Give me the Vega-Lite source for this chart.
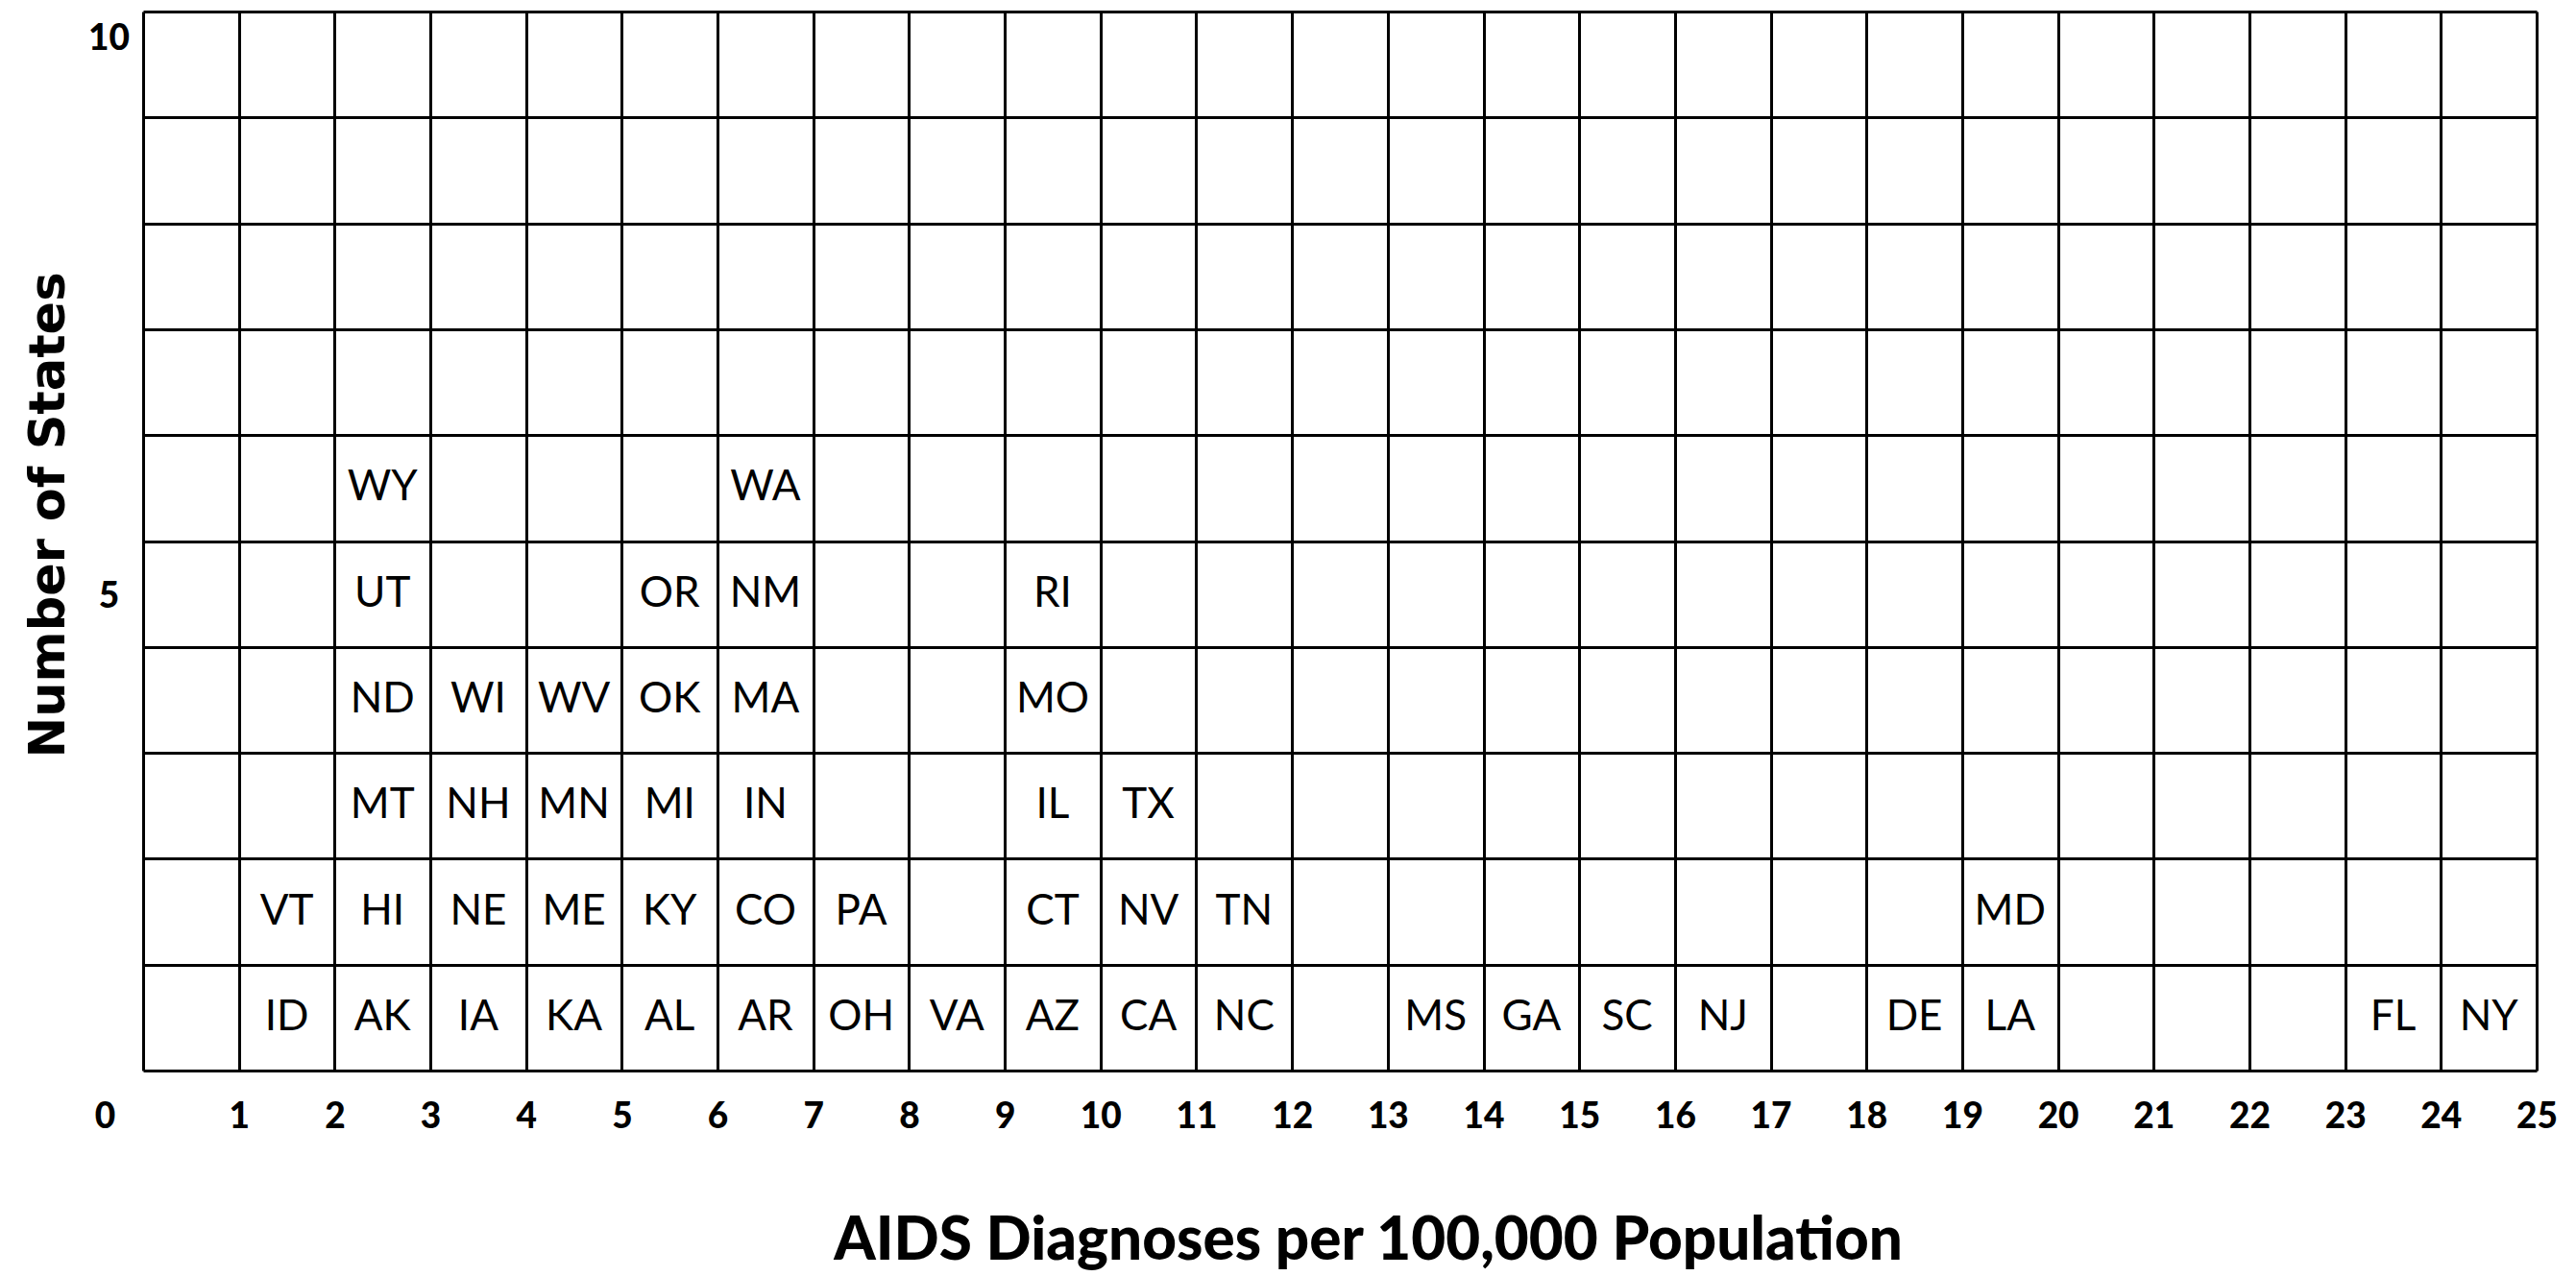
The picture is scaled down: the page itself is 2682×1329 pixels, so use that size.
{
  "$schema": "https://vega.github.io/schema/vega-lite/v6.json",
  "width": 2492,
  "height": 1103,
  "autosize": {"type": "none"},
  "padding": {"left": 149, "top": 12, "right": 41, "bottom": 214},
  "background": "white",
  "config": {"view": {"stroke": null}},
  "data": {"values": [
    {"state": "ID", "rate": 1, "n": 1}, {"state": "VT", "rate": 1, "n": 2},
    {"state": "AK", "rate": 2, "n": 1}, {"state": "HI", "rate": 2, "n": 2}, {"state": "MT", "rate": 2, "n": 3}, {"state": "ND", "rate": 2, "n": 4}, {"state": "UT", "rate": 2, "n": 5}, {"state": "WY", "rate": 2, "n": 6},
    {"state": "IA", "rate": 3, "n": 1}, {"state": "NE", "rate": 3, "n": 2}, {"state": "NH", "rate": 3, "n": 3}, {"state": "WI", "rate": 3, "n": 4},
    {"state": "KA", "rate": 4, "n": 1}, {"state": "ME", "rate": 4, "n": 2}, {"state": "MN", "rate": 4, "n": 3}, {"state": "WV", "rate": 4, "n": 4},
    {"state": "AL", "rate": 5, "n": 1}, {"state": "KY", "rate": 5, "n": 2}, {"state": "MI", "rate": 5, "n": 3}, {"state": "OK", "rate": 5, "n": 4}, {"state": "OR", "rate": 5, "n": 5},
    {"state": "AR", "rate": 6, "n": 1}, {"state": "CO", "rate": 6, "n": 2}, {"state": "IN", "rate": 6, "n": 3}, {"state": "MA", "rate": 6, "n": 4}, {"state": "NM", "rate": 6, "n": 5}, {"state": "WA", "rate": 6, "n": 6},
    {"state": "OH", "rate": 7, "n": 1}, {"state": "PA", "rate": 7, "n": 2},
    {"state": "VA", "rate": 8, "n": 1},
    {"state": "AZ", "rate": 9, "n": 1}, {"state": "CT", "rate": 9, "n": 2}, {"state": "IL", "rate": 9, "n": 3}, {"state": "MO", "rate": 9, "n": 4}, {"state": "RI", "rate": 9, "n": 5},
    {"state": "CA", "rate": 10, "n": 1}, {"state": "NV", "rate": 10, "n": 2}, {"state": "TX", "rate": 10, "n": 3},
    {"state": "NC", "rate": 11, "n": 1}, {"state": "TN", "rate": 11, "n": 2},
    {"state": "MS", "rate": 13, "n": 1},
    {"state": "GA", "rate": 14, "n": 1},
    {"state": "SC", "rate": 15, "n": 1},
    {"state": "NJ", "rate": 16, "n": 1},
    {"state": "DE", "rate": 18, "n": 1},
    {"state": "LA", "rate": 19, "n": 1}, {"state": "MD", "rate": 19, "n": 2},
    {"state": "FL", "rate": 23, "n": 1},
    {"state": "NY", "rate": 24, "n": 1}
  ]},
  "layer": [
    {
      "mark": {"type": "point", "opacity": 0},
      "encoding": {
        "x": {
          "field": "rate", "type": "quantitative",
          "scale": {"domain": [0, 25], "nice": false, "zero": true},
          "axis": {
            "values": [0,1,2,3,4,5,6,7,8,9,10,11,12,13,14,15,16,17,18,19,20,21,22,23,24,25],
            "grid": true, "gridColor": "black", "gridWidth": 3, "gridOpacity": 1,
            "domain": false, "ticks": false,
            "labelFont": "Lato", "labelFontWeight": 900, "labelFontSize": 37, "labelColor": "black",
            "labelPadding": 30, "labelBaseline": "top", "labelFlush": false, "labelOverlap": false,
            "labelOffset": {"condition": {"test": "datum.value === 0", "value": -40}, "value": 0},
            "title": "AIDS Diagnoses per 100,000 Population",
            "titleFont": "Lato", "titleFontWeight": 900, "titleFontSize": 62, "titleColor": "black",
            "titleX": 1275, "titleY": 196, "titleBaseline": "alphabetic", "titleAlign": "center"
          }
        },
        "y": {
          "field": "n", "type": "quantitative",
          "scale": {"domain": [0, 10], "nice": false, "zero": true},
          "axis": {
            "values": [0,1,2,3,4,5,6,7,8,9,10],
            "grid": true, "gridColor": "black", "gridWidth": 3, "gridOpacity": 1,
            "domain": false, "ticks": false,
            "labelExpr": "datum.value === 10 || datum.value === 5 ? datum.label : ''",
            "labelFont": "Lato", "labelFontWeight": 900, "labelFontSize": 37, "labelColor": "black",
            "labelAlign": "center", "labelBaseline": "middle", "labelPadding": 36, "labelFlush": false, "labelOverlap": false,
            "labelOffset": {"condition": {"test": "datum.value === 5", "value": 58}, "value": 28},
            "title": "Number of States",
            "titleFont": "DejaVu Sans", "titleFontWeight": "bold", "titleFontSize": 51, "titleColor": "black",
            "titleAngle": -90, "titleX": -83, "titleY": 524, "titleBaseline": "alphabetic", "titleAlign": "center"
          }
        }
      }
    },
    {
      "mark": {"type": "text", "font": "Lato", "fontSize": 44, "color": "black", "align": "center", "baseline": "middle"},
      "encoding": {
        "x": {
          "field": "rate", "type": "ordinal",
          "scale": {"domain": [0,1,2,3,4,5,6,7,8,9,10,11,12,13,14,15,16,17,18,19,20,21,22,23,24], "paddingInner": 0, "paddingOuter": 0},
          "axis": null
        },
        "y": {
          "field": "n", "type": "ordinal",
          "scale": {"domain": [10,9,8,7,6,5,4,3,2,1], "paddingInner": 0, "paddingOuter": 0},
          "axis": null
        },
        "text": {"field": "state", "type": "nominal"}
      }
    }
  ],
  "resolve": {"scale": {"x": "independent", "y": "independent"}}
}
